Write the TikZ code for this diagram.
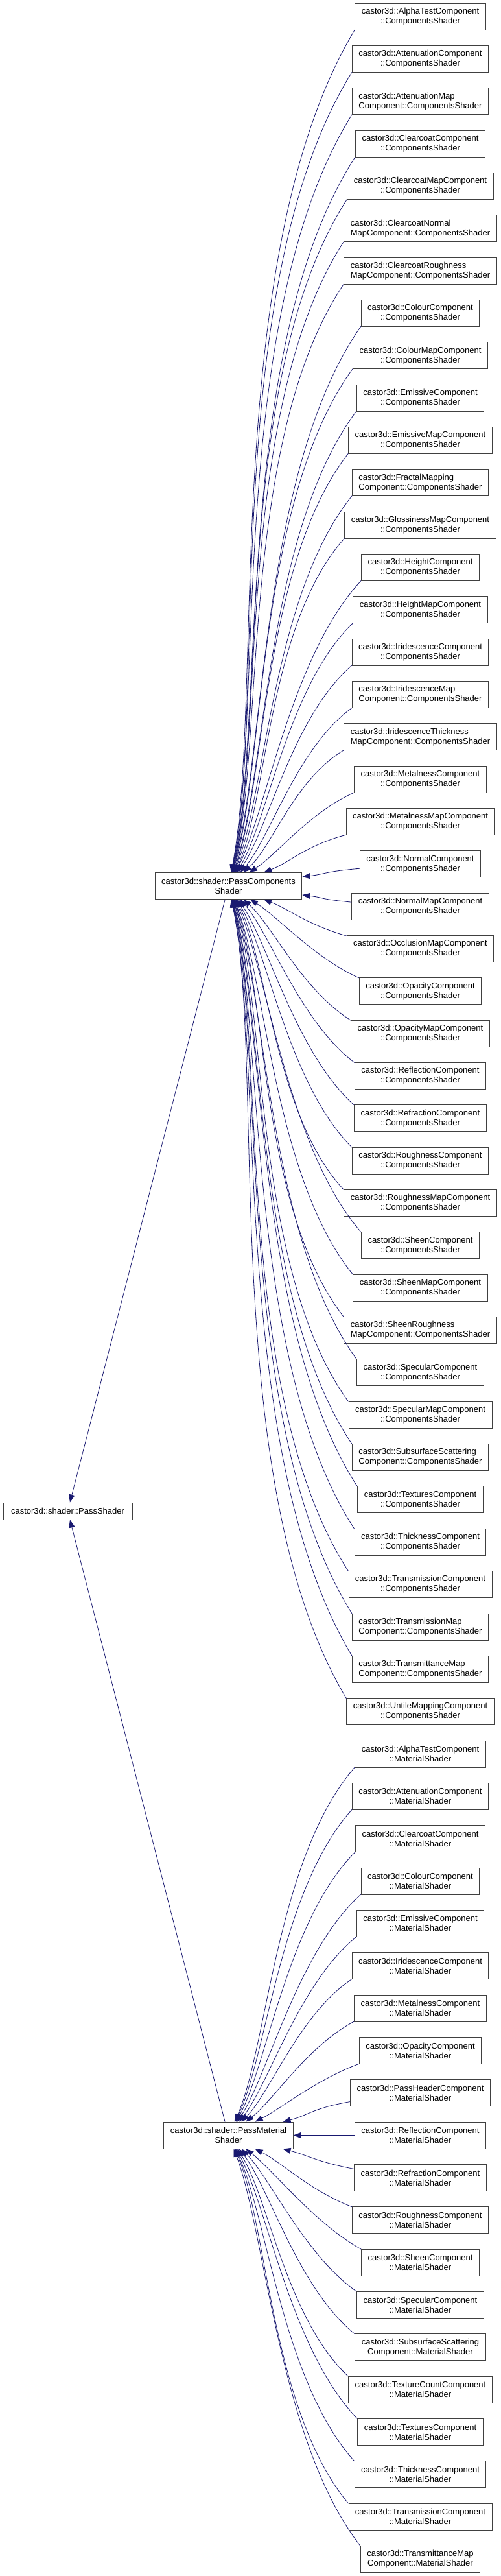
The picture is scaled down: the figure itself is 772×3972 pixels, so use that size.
\documentclass[tikz,border=0pt]{standalone}
\usepackage{fontspec}
\setmainfont{Liberation Sans}
\usetikzlibrary{arrows.meta, positioning}
\definecolor{edgeblue}{HTML}{191970}
\definecolor{boxgrey}{HTML}{404040}

\begin{document}
\begin{tikzpicture}[x=1pt, y=1pt,
        cls/.style={draw=boxgrey, line width=0.9pt, fill=white, minimum height=41pt, inner xsep=10pt, inner ysep=1pt, align=center, font=\fontsize{13}{15}\selectfont},
        cc/.style={cls, align=center},
        lc/.style={cls, align=left},
        inherit/.style={-{Triangle[length=12pt, width=9pt]}, draw=edgeblue, line width=0.8pt}
    ]
        \fill[white] (0,0) rectangle (772,-3972);
        \useasboundingbox (0,0) rectangle (772,-3972);

        % base classes
        \node (ps) [cls, minimum height=26pt, minimum width=199pt] at (104.5,-2330) {castor3d::shader::PassShader};
        \node (pcs) [cls] at (352.5,-1366) {castor3d::shader::PassComponents\\Shader};
        \node (pms) [cls] at (352.5,-3292.5) {castor3d::shader::PassMaterial\\Shader};

        \draw [inherit] (pcs) -- (ps);
        \draw [inherit] (pms) -- (ps);

        % components shaders
        \foreach [count=\i] \al/\fst/\snd in {
            cc/AlphaTestComponent/::ComponentsShader,
            cc/AttenuationComponent/::ComponentsShader,
            lc/AttenuationMap/Component::ComponentsShader,
            cc/ClearcoatComponent/::ComponentsShader,
            cc/ClearcoatMapComponent/::ComponentsShader,
            lc/ClearcoatNormal/MapComponent::ComponentsShader,
            lc/ClearcoatRoughness/MapComponent::ComponentsShader,
            cc/ColourComponent/::ComponentsShader,
            cc/ColourMapComponent/::ComponentsShader,
            cc/EmissiveComponent/::ComponentsShader,
            cc/EmissiveMapComponent/::ComponentsShader,
            lc/FractalMapping/Component::ComponentsShader,
            cc/GlossinessMapComponent/::ComponentsShader,
            cc/HeightComponent/::ComponentsShader,
            cc/HeightMapComponent/::ComponentsShader,
            cc/IridescenceComponent/::ComponentsShader,
            lc/IridescenceMap/Component::ComponentsShader,
            lc/IridescenceThickness/MapComponent::ComponentsShader,
            cc/MetalnessComponent/::ComponentsShader,
            cc/MetalnessMapComponent/::ComponentsShader,
            cc/NormalComponent/::ComponentsShader,
            cc/NormalMapComponent/::ComponentsShader,
            cc/OcclusionMapComponent/::ComponentsShader,
            cc/OpacityComponent/::ComponentsShader,
            cc/OpacityMapComponent/::ComponentsShader,
            cc/ReflectionComponent/::ComponentsShader,
            cc/RefractionComponent/::ComponentsShader,
            cc/RoughnessComponent/::ComponentsShader,
            cc/RoughnessMapComponent/::ComponentsShader,
            cc/SheenComponent/::ComponentsShader,
            cc/SheenMapComponent/::ComponentsShader,
            lc/SheenRoughness/MapComponent::ComponentsShader,
            cc/SpecularComponent/::ComponentsShader,
            cc/SpecularMapComponent/::ComponentsShader,
            lc/SubsurfaceScattering/Component::ComponentsShader,
            cc/TexturesComponent/::ComponentsShader,
            cc/ThicknessComponent/::ComponentsShader,
            cc/TransmissionComponent/::ComponentsShader,
            lc/TransmissionMap/Component::ComponentsShader,
            lc/TransmittanceMap/Component::ComponentsShader,
            cc/UntileMappingComponent/::ComponentsShader}
            \node (c\i) [\al] at (648.5,{-25.5-(\i-1)*65.34}) {castor3d::\fst\\\snd};

        % material shaders
        \foreach [count=\j] \fst/\snd in {
            AlphaTestComponent/::MaterialShader,
            AttenuationComponent/::MaterialShader,
            ClearcoatComponent/::MaterialShader,
            ColourComponent/::MaterialShader,
            EmissiveComponent/::MaterialShader,
            IridescenceComponent/::MaterialShader,
            MetalnessComponent/::MaterialShader,
            OpacityComponent/::MaterialShader,
            PassHeaderComponent/::MaterialShader,
            ReflectionComponent/::MaterialShader,
            RefractionComponent/::MaterialShader,
            RoughnessComponent/::MaterialShader,
            SheenComponent/::MaterialShader,
            SpecularComponent/::MaterialShader,
            SubsurfaceScattering/Component::MaterialShader,
            TextureCountComponent/::MaterialShader,
            TexturesComponent/::MaterialShader,
            ThicknessComponent/::MaterialShader,
            TransmissionComponent/::MaterialShader,
            TransmittanceMap/Component::MaterialShader}
            \node (m\j) [cc] at (648.5,{-25.5-(40+\j)*65.34}) {castor3d::\fst\\\snd};

        % inheritance edges
        \foreach \i in {1,...,41} {
            \pgfmathsetmacro\dy{1366-25.5-(\i-1)*65.34}
            \pgfmathtruncatemacro\ang{atan2(\dy,250)}
            \pgfmathtruncatemacro\oa{180+0.75*\ang}
            \pgfmathsetmacro\sy{-20.5*max(-1,min(1,\dy/100))}
            \pgfmathsetmacro\dist{100*veclen(1.9,\dy/100)}
            \pgfmathsetmacro\lo{0.3*\dist}
            \pgfmathsetmacro\li{0.2*\dist}
            \draw [inherit] ([yshift=\sy pt]c\i.west) .. controls +(\oa:\lo) and +(\ang:\li) .. (pcs.\ang);
        }
        \foreach \j in {1,...,20} {
            \pgfmathsetmacro\dy{3292.5-25.5-(40+\j)*65.34}
            \pgfmathtruncatemacro\ang{atan2(\dy,250)}
            \pgfmathtruncatemacro\oa{180+0.75*\ang}
            \pgfmathsetmacro\sy{-20.5*max(-1,min(1,\dy/100))}
            \pgfmathsetmacro\dist{100*veclen(1.9,\dy/100)}
            \pgfmathsetmacro\lo{0.3*\dist}
            \pgfmathsetmacro\li{0.2*\dist}
            \draw [inherit] ([yshift=\sy pt]m\j.west) .. controls +(\oa:\lo) and +(\ang:\li) .. (pms.\ang);
        }
    \end{tikzpicture}
\end{document}
